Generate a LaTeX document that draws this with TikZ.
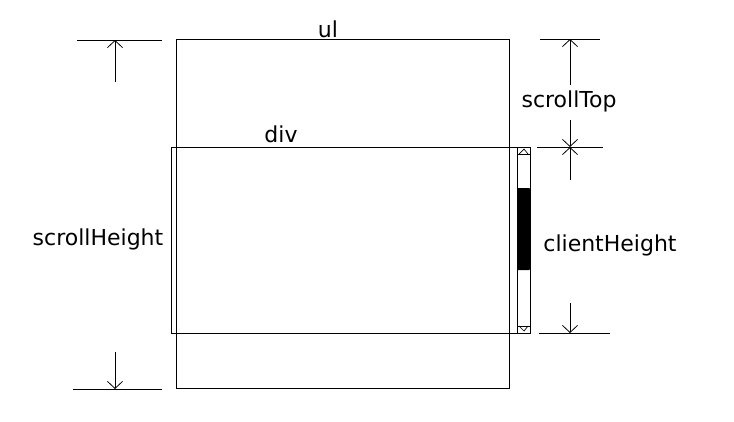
\documentclass[tikz,border=0pt]{standalone}
\usepackage{fontspec}
\setmainfont{DejaVu Sans}
\usetikzlibrary{arrows.meta}
\begin{document}
\begin{tikzpicture}[x=1pt,y=-1pt,line width=1pt,
  dimarrow/.style={-{Straight Barb[length=7pt,width=15pt,line width=0.8pt]}},
  lbl/.style={inner sep=0pt,anchor=base,font=\fontsize{22}{26}\selectfont}]
\useasboundingbox (0,0) rectangle (734,421);
% ul box
\draw (176,39) rectangle (509,388);
% div box
\draw (171,147) rectangle (530,333);
% scrollbar
\draw (517,147) -- (517,333);
\draw (517,154) -- (530,154);
\draw (517,326) -- (530,326);
\draw[line width=0.7pt] (519,154) -- (524,149) -- (528,154);
\draw[line width=0.7pt] (519,326) -- (524,331) -- (528,326);
\fill[rounded corners=1pt] (517,188) rectangle (530,270);
% labels
\node[lbl] (ul) at (328,37) {ul};
\node[lbl] (div) at (281,142) {div};
\node[lbl] (sh) at (98,245) {scrollHeight};
\node[lbl] (st) at (569,107) {scrollTop};
\node[lbl] (ch) at (610,251) {clientHeight};
% scrollHeight dimension
\coordinate (shT) at (115,40);
\coordinate (shTs) at (115,82);
\coordinate (shB) at (115,389);
\coordinate (shBs) at (115,352);
\draw (77,40) -- (162,40);
\draw (73,389) -- (162,389);
\draw[dimarrow] (shTs) -- (shT);
\draw[dimarrow] (shBs) -- (shB);
% scrollTop dimension
\coordinate (stT) at (570,39);
\coordinate (stTs) at (570,85);
\coordinate (stB) at (570,147);
\coordinate (stBs) at (570,120);
\draw (540,39) -- (600,39);
\draw (537,147) -- (603,147);
\draw[dimarrow] (stTs) -- (stT);
\draw[dimarrow] (stBs) -- (stB);
% clientHeight dimension
\coordinate (chTs) at (570,180);
\coordinate (chB) at (570,333);
\coordinate (chBs) at (570,303);
\draw (539,333) -- (610,333);
\draw[dimarrow] (chTs) -- (stB);
\draw[dimarrow] (chBs) -- (chB);
\end{tikzpicture}
\end{document}
